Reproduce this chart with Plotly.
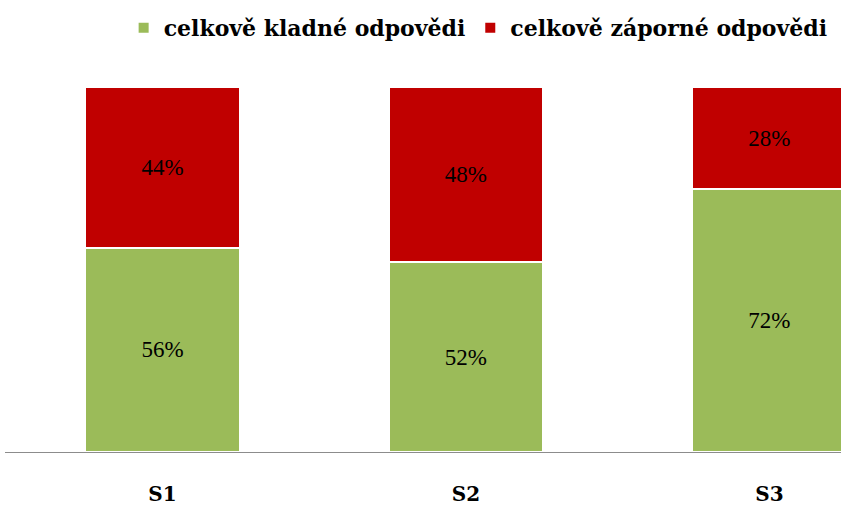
import plotly.graph_objects as go

# data
categories = ["S1", "S2", "S3"]
kladne = [56, 52, 72]
zaporne = [44, 48, 28]
series_names = ["celkově kladné odpovědi", "celkově záporné odpovědi"]

green = "#9BBB59"
red = "#C00000"
serif = "Liberation Serif"
serif_bold = "DejaVu Serif"

x_pos = list(range(len(categories)))

fig = go.Figure()
for vals, name, color in [(kladne, series_names[0], green), (zaporne, series_names[1], red)]:
    fig.add_trace(go.Bar(
        x=x_pos,
        y=vals,
        name=name,
        marker=dict(color=color, line=dict(color="white", width=2)),
        width=0.51,
        text=[f"{v}%" for v in vals],
        textposition="inside",
        insidetextanchor="middle",
        textfont=dict(family=serif, size=23, color="black"),
        hoverinfo="skip",
    ))

fig.update_layout(
    width=841,
    height=507,
    barmode="stack",
    plot_bgcolor="white",
    paper_bgcolor="white",
    margin=dict(l=5, r=0, t=87, b=55, autoexpand=False),
    font=dict(family=serif, color="black"),
    legend=dict(
        orientation="h",
        x=0.99, xanchor="right",
        y=0.945, yanchor="middle", yref="container",
        font=dict(size=22, family=serif_bold, weight="bold"),
        traceorder="normal",
        itemwidth=30,
        bgcolor="rgba(0,0,0,0)",
    ),
)

fig.update_xaxes(
    tickvals=x_pos,
    ticktext=categories,
    range=[-0.519, 2.236],
    showline=True,
    linecolor="#8c8c8c",
    linewidth=1,
    ticks="",
    showgrid=False,
    automargin=False,
    ticklabelstandoff=24,
    tickfont=dict(size=20, family=serif_bold, weight="bold"),
)
fig.update_yaxes(
    range=[0, 100],
    visible=False,
    showgrid=False,
    automargin=False,
)

# page body has a default 8px margin, drop it so the figure sits at 0,0
fig.write_html("out.html", config={"displayModeBar": False},
               post_script="document.body.style.margin='0';")
